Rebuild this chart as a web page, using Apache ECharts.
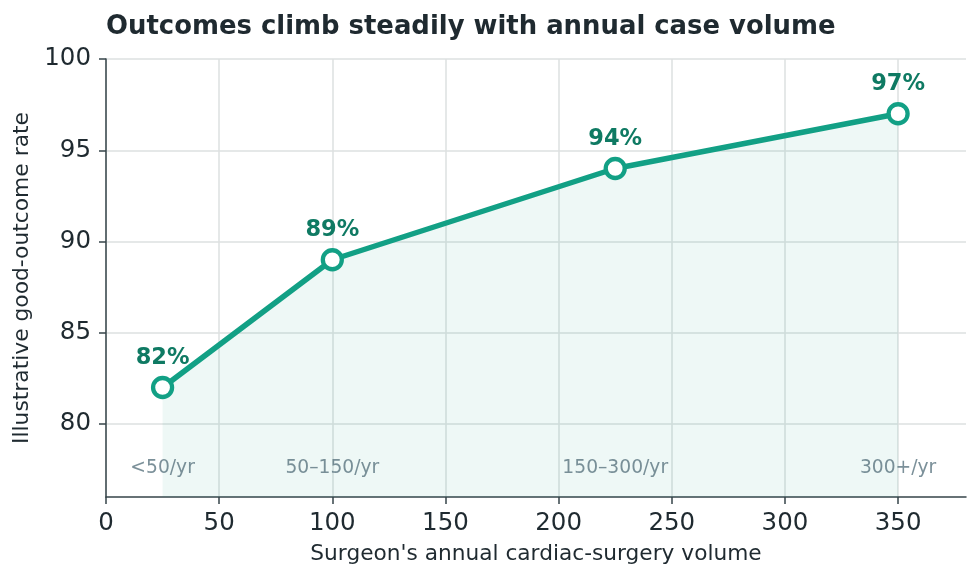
<!DOCTYPE html>
<html><head><meta charset="utf-8">
<script src="https://cdn.jsdelivr.net/npm/echarts@6/dist/echarts.min.js"></script>
<style>html,body{margin:0;padding:0;background:#fff}#c{width:980px;height:580px}</style>
</head><body><div id="c"></div>
<script>
const volumes = [25, 100, 225, 350];
const outcomes = [82, 89, 94, 97];
const bandLabels = ['<50/yr', '50–150/yr', '150–300/yr', '300+/yr'];
const bandLabelY = 77.6;
const xTicks = [0, 50, 100, 150, 200, 250, 300, 350];
const yTicks = [80, 85, 90, 95, 100];

const font = 'DejaVu Sans';
const chart = echarts.init(document.getElementById('c'), null, {renderer: 'canvas'});
chart.setOption({
  animation: false,
  backgroundColor: '#ffffff',
  textStyle: {fontFamily: font},
  title: {
    text: 'Outcomes climb steadily with annual case volume',
    left: 101, top: 9,
    textStyle: {fontFamily: font, fontSize: 25.9, fontWeight: 'bold', color: '#1f2a30'}
  },
  grid: {left: 106, right: 14, top: 59, bottom: 83},
  xAxis: {
    type: 'value', min: 0, max: 380,
    name: "Surgeon's annual cardiac-surgery volume",
    nameLocation: 'middle', nameGap: 46,
    nameTextStyle: {fontFamily: font, fontSize: 21.7, color: '#1f2a30'},
    axisLine: {show: true, lineStyle: {color: '#36444a', width: 1.5}},
    axisTick: {show: true, length: 7, lineStyle: {color: '#36444a', width: 1.5}, customValues: xTicks},
    axisLabel: {fontFamily: font, fontSize: 24.5, color: '#1f2a30', margin: 14, customValues: xTicks},
    splitLine: {show: true, lineStyle: {color: '#dde1e1', width: 1.5}}
  },
  yAxis: {
    type: 'value', min: 76, max: 100,
    name: 'Illustrative good-outcome rate',
    nameLocation: 'middle', nameGap: 71, nameRotate: 90,
    nameTextStyle: {fontFamily: font, fontSize: 21.8, color: '#1f2a30'},
    axisLine: {show: true, lineStyle: {color: '#36444a', width: 1.5}},
    axisTick: {show: true, length: 7, lineStyle: {color: '#36444a', width: 1.5}, customValues: yTicks},
    axisLabel: {fontFamily: font, fontSize: 24.5, color: '#1f2a30', margin: 15, padding: [3, 0, 0, 0], customValues: yTicks},
    splitLine: {show: true, lineStyle: {color: '#dde1e1', width: 1.5}}
  },
  series: [
    {
      type: 'line',
      data: volumes.map((v, i) => [v, outcomes[i]]),
      lineStyle: {color: '#12a085', width: 5.5},
      itemStyle: {color: '#ffffff', borderColor: '#12a085', borderWidth: 4.3},
      symbol: 'circle', symbolSize: 19,
      areaStyle: {color: 'rgba(18,160,133,0.1)', origin: 'start'},
      label: {
        show: true, position: 'top', distance: 6,
        formatter: p => p.value[1] + '%',
        fontFamily: font, fontSize: 22.5, fontWeight: 'bold', color: '#0f7a63'
      },
      z: 3
    },
    {
      type: 'scatter',
      data: volumes.map((v, i) => [v, bandLabelY, bandLabels[i]]),
      symbolSize: 0,
      label: {
        show: true, position: 'inside',
        formatter: p => p.value[2],
        fontFamily: font, fontSize: 18.7, color: '#5a7480'
      },
      silent: true, z: 4
    }
  ]
});
</script></body></html>
